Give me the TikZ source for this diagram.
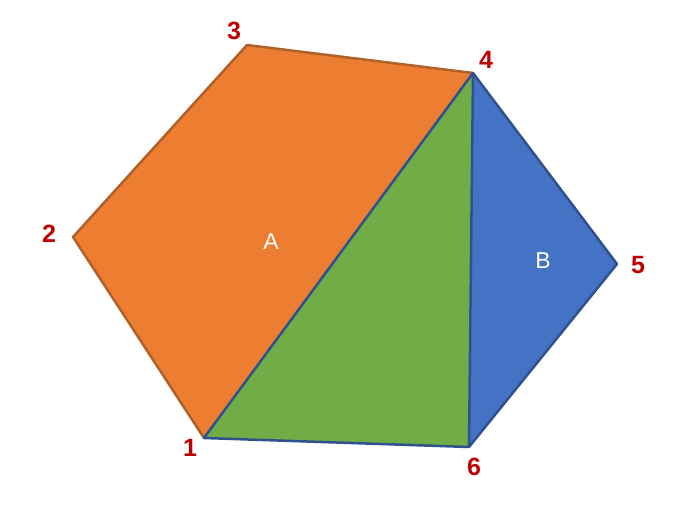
\documentclass[tikz,border=0pt]{standalone}
\usepackage{fontspec}
\setmainfont{Liberation Sans}
\begin{document}
\begin{tikzpicture}[x=1pt,y=-1pt,
  lbl/.style={text=red!75!black,font=\fontsize{25}{28}\selectfont\bfseries,inner sep=0pt},
  area/.style={text=white,font=\fontsize{23}{26}\selectfont,inner sep=0pt},
  edgeb/.style={draw=blueb,line width=2.5pt,line join=round}]
\definecolor{orng}{HTML}{ED7D31}
\definecolor{grn}{HTML}{70AD47}
\definecolor{blu}{HTML}{4472C4}
\definecolor{blueb}{HTML}{2F528F}
\definecolor{orb}{HTML}{B0602A}
\useasboundingbox (0,0) rectangle (689,523);
\coordinate (p1) at (204,438);
\coordinate (p2) at (73,237);
\coordinate (p3) at (247,45);
\coordinate (p4) at (473,73);
\coordinate (p5) at (617,264);
\coordinate (p6) at (469,447);
\fill[orng] (p1) -- (p2) -- (p3) -- (p4) -- cycle;
\draw[line width=2.5pt,draw=orb,line join=round] (p4) -- (p3) -- (p2) -- (p1);
\fill[grn] (p1) -- (p4) -- (p6) -- cycle;
\fill[blu] (p4) -- (p5) -- (p6) -- cycle;
\draw[edgeb] (p1) -- (p4) -- (p5) -- (p6) -- cycle;
\draw[edgeb] (p4) -- (p6);
\node[lbl] (l1) at (190,448) {1};
\node[lbl] (l2) at (49,234) {2};
\node[lbl] (l3) at (234,31) {3};
\node[lbl] (l4) at (486,60) {4};
\node[lbl] (l5) at (638,265) {5};
\node[lbl] (l6) at (474,467) {6};
\node[area] (a) at (271,242) {A};
\node[area] (b) at (543,261) {B};
\end{tikzpicture}
\end{document}
